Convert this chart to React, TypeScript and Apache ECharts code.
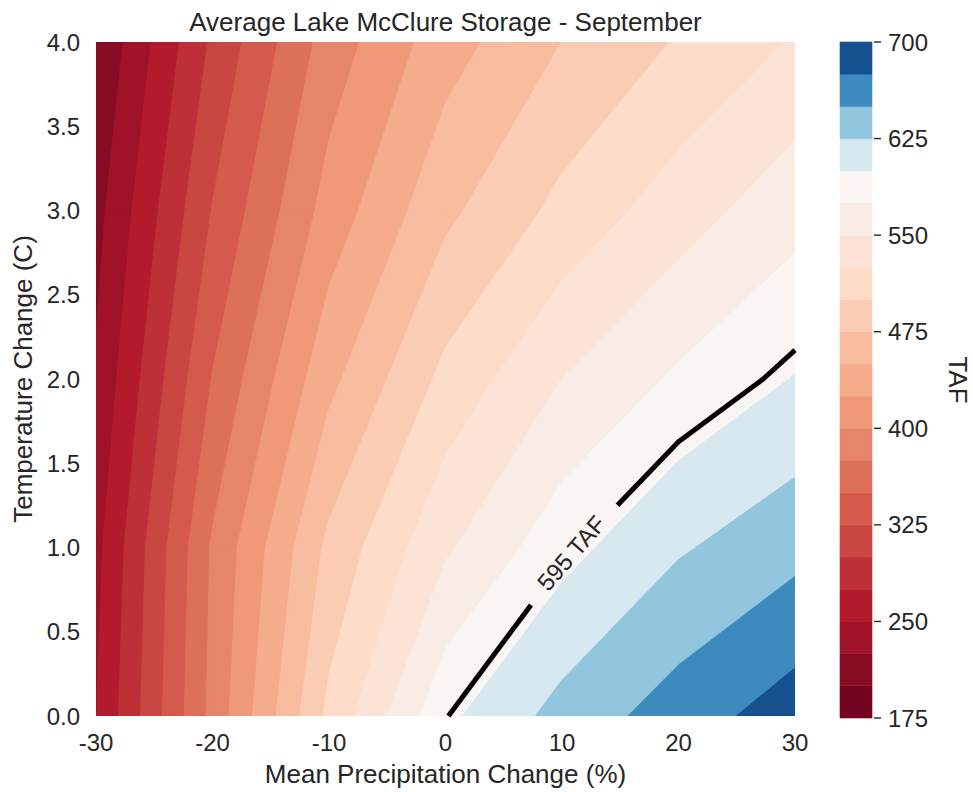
import React, { useEffect, useRef } from "react";
import * as echarts from "echarts";

// ---------------- data ----------------
const TITLE = "Average Lake McClure Storage - September";
const X_NAME = "Mean Precipitation Change (%)";
const Y_NAME = "Temperature Change (C)";
const CBAR_NAME = "TAF";

// grid nodes
const PRECIP = [-30, -20, -10, 0, 10, 20, 30];
const TEMP = [0, 1, 2, 3, 4];

// storage (TAF) at each grid node, one row per temperature change
const STORAGE_T0 = [249, 382, 506, 594, 634, 662, 688];
const STORAGE_T1 = [242, 378, 481, 546, 591, 622, 642];
const STORAGE_T2 = [228, 351, 443, 507, 550, 579, 601];
const STORAGE_T3 = [216, 326, 410, 469, 507, 538, 566];
const STORAGE_T4 = [201, 304, 386, 439, 475, 502, 527];
const STORAGE_ROWS = [STORAGE_T0, STORAGE_T1, STORAGE_T2, STORAGE_T3, STORAGE_T4];

// filled contour levels
const LEVELS = [
  175, 200, 225, 250, 275, 300, 325, 350, 375, 400, 425,
  450, 475, 500, 525, 550, 575, 600, 625, 650, 675, 700,
];
const CBAR_TICKS = [175, 250, 325, 400, 475, 550, 625, 700];

const HIGHLIGHT_LEVEL = 595;
const HIGHLIGHT_LABEL = "595 TAF";
const LABEL_AT = [10.8, 0.97];

// ---------------- styles ----------------
const BAND_COLORS = [
  "#720421", "#880b24", "#9f1228", "#b31b2c", "#be3037", "#c94641", "#d45b4b",
  "#dd7059", "#e68569", "#ef9979", "#f5ac8b", "#f8bc9f", "#fbccb4", "#fddcc8",
  "#fbe4d6", "#f9ece4", "#f8f5f3", "#d7e8f1", "#92c5de", "#3c8abe", "#16508e",
];
const FONT = '"Liberation Sans", Arial, Helvetica, sans-serif';
const TEXT = "#262626";
const GAP_RADIUS = 66;

// ---------------- geometry helpers ----------------
type VP = { x: number; y: number; v: number };

function clipPoly(poly: VP[], level: number, keepAbove: boolean): VP[] {
  const out: VP[] = [];
  const n = poly.length;
  const inside = (p: VP) => (keepAbove ? p.v >= level : p.v <= level);
  for (let i = 0; i < n; i++) {
    const cur = poly[i];
    const prev = poly[(i - 1 + n) % n];
    const ic = inside(cur);
    const ip = inside(prev);
    const cross = () => {
      const t = (level - prev.v) / (cur.v - prev.v);
      return { x: prev.x + (cur.x - prev.x) * t, y: prev.y + (cur.y - prev.y) * t, v: level };
    };
    if (ic) {
      if (!ip) out.push(cross());
      out.push(cur);
    } else if (ip) {
      out.push(cross());
    }
  }
  return out;
}

function renderFill(params: any, api: any) {
  const i = api.value(2);
  const j = api.value(3);
  const corners: VP[] = [
    { x: PRECIP[i], y: TEMP[j], v: STORAGE_ROWS[j][i] },
    { x: PRECIP[i + 1], y: TEMP[j], v: STORAGE_ROWS[j][i + 1] },
    { x: PRECIP[i + 1], y: TEMP[j + 1], v: STORAGE_ROWS[j + 1][i + 1] },
    { x: PRECIP[i], y: TEMP[j + 1], v: STORAGE_ROWS[j + 1][i] },
  ];
  const children: any[] = [];
  for (let k = 0; k < LEVELS.length - 1; k++) {
    let poly = clipPoly(corners, LEVELS[k], true);
    if (poly.length < 3) continue;
    poly = clipPoly(poly, LEVELS[k + 1], false);
    if (poly.length < 3) continue;
    const pts = poly.map((p) => api.coord([p.x, p.y]));
    children.push({
      type: "polygon",
      shape: { points: pts },
      style: { fill: BAND_COLORS[k], stroke: BAND_COLORS[k], lineWidth: 1.5, lineJoin: "round" },
    });
  }
  return { type: "group", children };
}

function edgePoint(level: number, ia: number, ja: number, ib: number, jb: number) {
  const va = STORAGE_ROWS[ja][ia];
  const vb = STORAGE_ROWS[jb][ib];
  const t = (level - va) / (vb - va);
  return [PRECIP[ia] + (PRECIP[ib] - PRECIP[ia]) * t, TEMP[ja] + (TEMP[jb] - TEMP[ja]) * t];
}

function contourLines(level: number): number[][][] {
  type Hit = { key: string; p: number[] };
  const segs: Hit[][] = [];
  for (let j = 0; j < TEMP.length - 1; j++) {
    for (let i = 0; i < PRECIP.length - 1; i++) {
      const edges: [number, number, number, number, string][] = [
        [i, j, i + 1, j, `h${i}_${j}`],
        [i + 1, j, i + 1, j + 1, `v${i + 1}_${j}`],
        [i, j + 1, i + 1, j + 1, `h${i}_${j + 1}`],
        [i, j, i, j + 1, `v${i}_${j}`],
      ];
      const hits: Hit[] = [];
      for (const e of edges) {
        const va = STORAGE_ROWS[e[1]][e[0]];
        const vb = STORAGE_ROWS[e[3]][e[2]];
        if ((va - level) * (vb - level) < 0) {
          hits.push({ key: e[4], p: edgePoint(level, e[0], e[1], e[2], e[3]) });
        }
      }
      if (hits.length === 2) segs.push([hits[0], hits[1]]);
      else if (hits.length === 4) {
        segs.push([hits[0], hits[1]]);
        segs.push([hits[2], hits[3]]);
      }
    }
  }
  const byKey = new Map<string, number[]>();
  segs.forEach((s, idx) => {
    for (const h of s) {
      if (!byKey.has(h.key)) byKey.set(h.key, []);
      byKey.get(h.key)!.push(idx);
    }
  });
  const used = new Set<number>();
  const lines: number[][][] = [];
  const walk = (start: number, fromEnd: number) => {
    used.add(start);
    const s = segs[start];
    const line = [s[fromEnd].p, s[1 - fromEnd].p];
    let key = s[1 - fromEnd].key;
    for (;;) {
      const cand = (byKey.get(key) || []).find((t) => !used.has(t));
      if (cand === undefined) break;
      used.add(cand);
      const c = segs[cand];
      const end = c[0].key === key ? 1 : 0;
      line.push(c[end].p);
      key = c[end].key;
    }
    lines.push(line);
  };
  segs.forEach((s, idx) => {
    if (used.has(idx)) return;
    if ((byKey.get(s[0].key) || []).length === 1) walk(idx, 0);
    else if ((byKey.get(s[1].key) || []).length === 1) walk(idx, 1);
  });
  segs.forEach((s, idx) => {
    if (!used.has(idx)) walk(idx, 0);
  });
  return lines;
}

function nearestOnPolyline(pts: number[][], q: number[]) {
  let best = pts[0];
  let bd = Infinity;
  for (let k = 0; k < pts.length - 1; k++) {
    const a = pts[k];
    const b = pts[k + 1];
    const dx = b[0] - a[0];
    const dy = b[1] - a[1];
    const L = dx * dx + dy * dy || 1;
    let t = ((q[0] - a[0]) * dx + (q[1] - a[1]) * dy) / L;
    t = Math.max(0, Math.min(1, t));
    const p = [a[0] + dx * t, a[1] + dy * t];
    const d = (p[0] - q[0]) ** 2 + (p[1] - q[1]) ** 2;
    if (d < bd) {
      bd = d;
      best = p;
    }
  }
  return { p: best, d: bd };
}

function cutGap(pts: number[][], c: number[], r: number) {
  const out: number[][][] = [];
  const ends: number[][] = [];
  let cur: number[][] = [];
  for (let k = 0; k < pts.length - 1; k++) {
    const a = pts[k];
    const b = pts[k + 1];
    const dx = b[0] - a[0];
    const dy = b[1] - a[1];
    const fx = a[0] - c[0];
    const fy = a[1] - c[1];
    const A = dx * dx + dy * dy;
    const B = 2 * (fx * dx + fy * dy);
    const C = fx * fx + fy * fy - r * r;
    const disc = B * B - 4 * A * C;
    const lerp = (t: number) => [a[0] + dx * t, a[1] + dy * t];
    let t1 = 2;
    let t2 = 2;
    if (disc > 0 && A > 0) {
      const s = Math.sqrt(disc);
      t1 = (-B - s) / (2 * A);
      t2 = (-B + s) / (2 * A);
    }
    if (disc <= 0 || A === 0 || t2 <= 0 || t1 >= 1) {
      if (cur.length === 0) cur.push(a);
      cur.push(b);
    } else {
      if (t1 > 0) {
        if (cur.length === 0) cur.push(a);
        const g = lerp(t1);
        cur.push(g);
        ends.push(g);
      }
      if (cur.length >= 2) out.push(cur);
      cur = [];
      if (t2 < 1) {
        const g = lerp(t2);
        ends.push(g);
        cur.push(g);
        cur.push(b);
      }
    }
  }
  if (cur.length >= 2) out.push(cur);
  return { pieces: out, ends };
}

function renderContour(params: any, api: any) {
  const lines = contourLines(HIGHLIGHT_LEVEL).map((l) => l.map((p) => api.coord(p)));
  const anchor = api.coord(LABEL_AT);
  let bestLine = -1;
  let best: any = null;
  lines.forEach((l, idx) => {
    const n = nearestOnPolyline(l, anchor);
    if (!best || n.d < best.d) {
      best = n;
      bestLine = idx;
    }
  });
  const children: any[] = [];
  const lineStyle = { stroke: "#000000", lineWidth: 5, fill: null, lineJoin: "round", lineCap: "butt" };
  lines.forEach((l, idx) => {
    if (idx !== bestLine) {
      children.push({ type: "polyline", shape: { points: l }, style: lineStyle });
      return;
    }
    const { pieces, ends } = cutGap(l, best.p, GAP_RADIUS);
    pieces.forEach((pc) => children.push({ type: "polyline", shape: { points: pc }, style: lineStyle }));
    let s = ends[0] || [best.p[0] - 1, best.p[1]];
    let e = ends[1] || [best.p[0] + 1, best.p[1]];
    if (e[0] < s[0]) {
      const tmp = s;
      s = e;
      e = tmp;
    }
    const ang = Math.atan2(-(e[1] - s[1]), e[0] - s[0]);
    const cx = (s[0] + e[0]) / 2 - 3;
    const cy = (s[1] + e[1]) / 2 - 2;
    children.push({
      type: "text",
      x: cx,
      y: cy,
      rotation: ang,
      style: {
        text: HIGHLIGHT_LABEL,
        fill: TEXT,
        font: `24px ${FONT}`,
        align: "center",
        verticalAlign: "middle",
      },
    });
  });
  return { type: "group", children };
}

function renderBand(params: any, api: any) {
  const k = api.value(2);
  const p0 = api.coord([0, LEVELS[k]]);
  const p1 = api.coord([1, LEVELS[k + 1]]);
  return {
    type: "rect",
    shape: { x: p0[0], y: p1[1], width: p1[0] - p0[0], height: p0[1] - p1[1] },
    style: { fill: BAND_COLORS[k], stroke: BAND_COLORS[k], lineWidth: 0.6 },
  };
}

function renderCbarTick(params: any, api: any) {
  const p = api.coord([1, api.value(1)]);
  return {
    type: "line",
    shape: { x1: p[0] + 2, y1: p[1], x2: p[0] + 9, y2: p[1] },
    style: { stroke: TEXT, lineWidth: 1.4 },
  };
}

const CELLS: number[][] = [];
for (let j = 0; j < TEMP.length - 1; j++) {
  for (let i = 0; i < PRECIP.length - 1; i++) {
    CELLS.push([(PRECIP[i] + PRECIP[i + 1]) / 2, (TEMP[j] + TEMP[j + 1]) / 2, i, j]);
  }
}
const BANDS: number[][] = [];
for (let k = 0; k < LEVELS.length - 1; k++) {
  BANDS.push([0.5, (LEVELS[k] + LEVELS[k + 1]) / 2, k]);
}
const CBAR_TICK_DATA = CBAR_TICKS.map((v) => [1, v]);

const option: any = {
  animation: false,
  backgroundColor: "#ffffff",
  textStyle: { fontFamily: FONT },
  grid: [
    { left: 96, top: 42, width: 699, height: 676 },
    { left: 840, top: 42, width: 32, height: 676 },
  ],
  xAxis: [
    {
      type: "value",
      gridIndex: 0,
      min: -30,
      max: 30,
      interval: 10,
      axisLine: { show: false },
      axisTick: { show: false },
      splitLine: { show: false },
      axisLabel: { fontSize: 24, color: TEXT, margin: 14, fontFamily: FONT, showMinLabel: true, showMaxLabel: true },
      name: X_NAME,
      nameLocation: "middle",
      nameGap: 45,
      nameTextStyle: { fontSize: 26, color: TEXT, fontFamily: FONT },
    },
    { type: "value", gridIndex: 1, min: 0, max: 1, show: false },
  ],
  yAxis: [
    {
      type: "value",
      gridIndex: 0,
      min: 0,
      max: 4,
      interval: 0.5,
      axisLine: { show: false },
      axisTick: { show: false },
      splitLine: { show: false },
      axisLabel: {
        fontSize: 24,
        color: TEXT,
        margin: 16,
        fontFamily: FONT,
        showMinLabel: true,
        showMaxLabel: true,
        formatter: (v: number) => v.toFixed(1),
      },
      name: Y_NAME,
      nameLocation: "middle",
      nameRotate: 90,
      nameGap: 55,
      nameTextStyle: { fontSize: 26, color: TEXT, fontFamily: FONT },
    },
    {
      type: "value",
      gridIndex: 1,
      min: 175,
      max: 700,
      position: "right",
      axisLine: { show: false },
      axisTick: { show: false },
      splitLine: { show: false },
      axisLabel: {
        customValues: CBAR_TICKS,
        fontSize: 24,
        color: TEXT,
        margin: 16,
        fontFamily: FONT,
        showMinLabel: true,
        showMaxLabel: true,
      },
      name: CBAR_NAME,
      nameLocation: "middle",
      nameRotate: -90,
      nameGap: 73,
      nameTextStyle: { fontSize: 26, color: TEXT, fontFamily: FONT },
    },
  ],
  graphic: [
    {
      type: "text",
      x: 445.5,
      y: 22,
      style: { text: TITLE, font: `26px ${FONT}`, fill: TEXT, align: "center", verticalAlign: "middle" },
    },
  ],
  series: [
    {
      type: "custom",
      coordinateSystem: "cartesian2d",
      xAxisIndex: 0,
      yAxisIndex: 0,
      data: CELLS,
      encode: { x: 0, y: 1 },
      renderItem: renderFill,
      silent: true,
      clip: true,
      z: 1,
    },
    {
      type: "custom",
      coordinateSystem: "cartesian2d",
      xAxisIndex: 0,
      yAxisIndex: 0,
      data: [[0, 2]],
      encode: { x: 0, y: 1 },
      renderItem: renderContour,
      silent: true,
      z: 3,
    },
    {
      type: "custom",
      coordinateSystem: "cartesian2d",
      xAxisIndex: 1,
      yAxisIndex: 1,
      data: BANDS,
      encode: { x: 0, y: 1 },
      renderItem: renderBand,
      silent: true,
      z: 1,
    },
    {
      type: "custom",
      coordinateSystem: "cartesian2d",
      xAxisIndex: 1,
      yAxisIndex: 1,
      data: CBAR_TICK_DATA,
      encode: { x: 0, y: 1 },
      renderItem: renderCbarTick,
      silent: true,
      clip: false,
      z: 2,
    },
  ],
};

export default function App() {
  const ref = useRef<HTMLDivElement>(null);
  useEffect(() => {
    if (!ref.current) return;
    const chart = echarts.init(ref.current, undefined, { renderer: "svg" });
    chart.setOption(option);
    return () => {
      chart.dispose();
    };
  }, []);
  return (
    <div
      ref={ref}
      style={{ position: "fixed", left: 0, top: 0, width: 973, height: 792, background: "#ffffff" }}
    />
  );
}
